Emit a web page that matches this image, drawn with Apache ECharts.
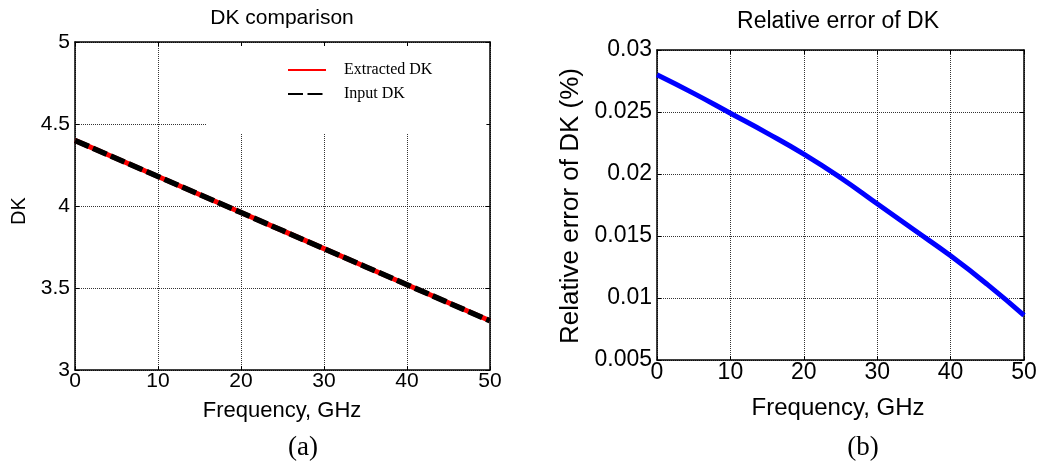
<!DOCTYPE html>
<html>
<head>
<meta charset="utf-8">
<script src="https://cdn.jsdelivr.net/npm/echarts@6/dist/echarts.min.js"></script>
<style>html,body{margin:0;padding:0;background:#fff;}#c{width:1054px;height:466px;}</style>
</head>
<body>
<div id="c"></div>
<script>
// ---- data ----
const freq = [0, 5, 10, 15, 20, 25, 30, 35, 40, 45, 50];
const extractedDK = [4.40, 4.29, 4.18, 4.07, 3.96, 3.85, 3.74, 3.63, 3.52, 3.41, 3.30];
const inputDK     = [4.40, 4.29, 4.18, 4.07, 3.96, 3.85, 3.74, 3.63, 3.52, 3.41, 3.30];
const relErr      = [0.0280, 0.0265, 0.0249, 0.0233, 0.0216, 0.0197, 0.0176, 0.0155, 0.0134, 0.0111, 0.0086];
const titleA = 'DK comparison';
const titleB = 'Relative error of DK';
const xName = 'Frequency, GHz';
const yNameA = 'DK';
const yNameB = 'Relative error of DK (%)';
const legendNames = ['Extracted DK', 'Input DK'];

const pairs = (xs, ys) => xs.map((x, i) => [x, ys[i]]);
const SANS = '"Liberation Sans", Arial, sans-serif';
const SERIF = '"Liberation Serif", "Times New Roman", serif';

function xAx(grid, fs, pos) {
  const top = pos === 'top';
  return {
    type: 'value', gridIndex: grid, min: 0, max: 50, interval: 10, position: pos,
    axisLine: { show: true, onZero: false, lineStyle: { color: '#000', width: 1.5 } },
    axisTick: { show: true, inside: true, length: 4, lineStyle: { color: '#000' } },
    axisLabel: { show: !top, color: '#000', fontSize: fs, fontFamily: SANS, margin: 1 },
    splitLine: { show: !top, lineStyle: { color: '#000', type: [1, 1], width: 0.8 } }
  };
}
function yAx(grid, fs, min, max, interval, pos, fmt) {
  const right = pos === 'right';
  return {
    type: 'value', gridIndex: grid, min: min, max: max, interval: interval, position: pos,
    axisLine: { show: true, onZero: false, lineStyle: { color: '#000', width: 1.5 } },
    axisTick: { show: true, inside: true, length: 4, lineStyle: { color: '#000' } },
    axisLabel: { show: !right, color: '#000', fontSize: fs, fontFamily: SANS, margin: 5, formatter: fmt },
    splitLine: { show: !right, lineStyle: { color: '#000', type: [1, 1], width: 0.8 } }
  };
}
const tStyle = (fam, fs) => ({ fontFamily: fam, fontWeight: 'normal', fontSize: fs, color: '#000' });

const chart = echarts.init(document.getElementById('c'), null, { renderer: 'canvas' });
chart.setOption({
  backgroundColor: '#fff',
  animation: false,
  title: [
    { text: titleA, left: 282, top: 8, padding: 0, textAlign: 'center', textStyle: tStyle(SANS, 21) },
    { text: titleB, left: 838, top: 10, padding: 0, textAlign: 'center', textStyle: tStyle(SANS, 23) },
    { text: xName, left: 282, top: 400, padding: 0, textAlign: 'center', textStyle: tStyle(SANS, 22) },
    { text: xName, left: 838, top: 396, padding: 0, textAlign: 'center', textStyle: tStyle(SANS, 24) },
    { text: '(a)', left: 303, top: 434, padding: 0, textAlign: 'center', textStyle: tStyle(SERIF, 27) },
    { text: '(b)', left: 863, top: 434, padding: 0, textAlign: 'center', textStyle: tStyle(SERIF, 27) }
  ],
  graphic: [
    { type: 'text', x: 19, y: 211, rotation: Math.PI / 2, style: { text: yNameA, font: '20px ' + SANS, fill: '#000', align: 'center', verticalAlign: 'middle' } },
    { type: 'text', x: 571, y: 206, rotation: Math.PI / 2, style: { text: yNameB, font: '26px ' + SANS, fill: '#000', align: 'center', verticalAlign: 'middle' } }
  ],
  legend: {
    data: legendNames,
    orient: 'vertical',
    left: 207, top: 46,
    padding: [16, 54, 31, 80],
    backgroundColor: '#fff',
    itemWidth: 38, itemHeight: 14, itemGap: 8,
    itemStyle: { opacity: 0 },
    textStyle: Object.assign(tStyle(SERIF, 16), { padding: [0, 0, 0, 13] }),
    z: 10
  },
  grid: [
    { left: 75, right: 564, top: 42, bottom: 96, show: false },
    { left: 657, right: 30, top: 50, bottom: 106, show: false }
  ],
  xAxis: [xAx(0, 21, 'bottom'), xAx(0, 21, 'top'), xAx(1, 23, 'bottom'), xAx(1, 23, 'top')],
  yAxis: [
    yAx(0, 21, 3, 5, 0.5, 'left'), yAx(0, 21, 3, 5, 0.5, 'right'),
    yAx(1, 23, 0.005, 0.03, 0.005, 'left', v => String(+v.toFixed(3))), yAx(1, 23, 0.005, 0.03, 0.005, 'right')
  ],
  series: [
    { name: legendNames[0], type: 'line', xAxisIndex: 0, yAxisIndex: 0, data: pairs(freq, extractedDK), symbol: 'none',
      lineStyle: { color: '#ff0000', width: 5 }, itemStyle: { color: '#ff0000' }, z: 3 },
    { name: legendNames[1], type: 'line', xAxisIndex: 0, yAxisIndex: 0, data: pairs(freq, inputDK), symbol: 'none',
      lineStyle: { color: '#000', width: 5.5, type: [15, 4.5] }, itemStyle: { color: '#000' }, z: 4 },
    { name: 'relErr', type: 'line', xAxisIndex: 2, yAxisIndex: 2, data: pairs(freq, relErr), symbol: 'none', smooth: true,
      lineStyle: { color: '#0000ff', width: 5 }, itemStyle: { color: '#0000ff' }, z: 3 }
  ]
});
</script>
</body>
</html>
